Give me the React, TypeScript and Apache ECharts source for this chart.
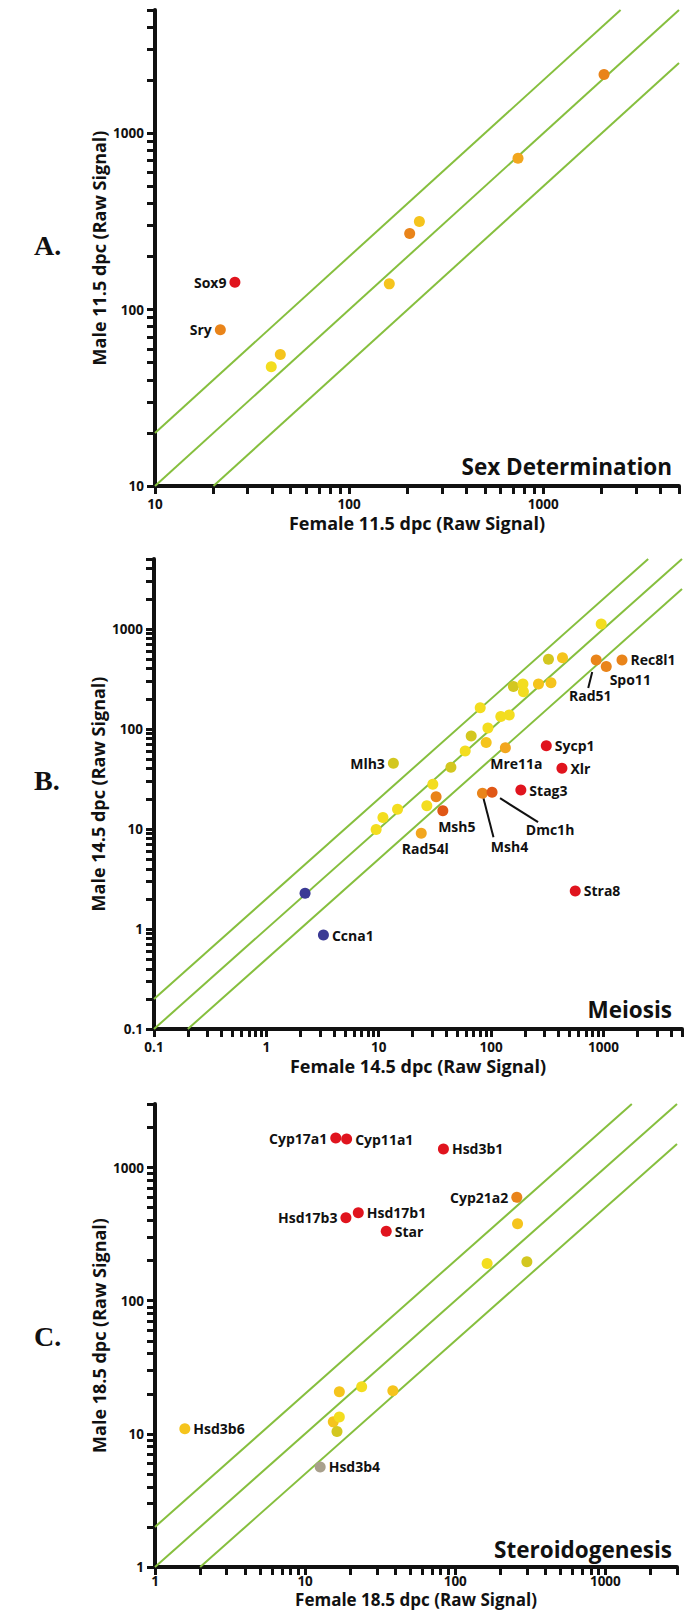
import React, { useEffect, useRef } from "react";
import * as echarts from "echarts";

const FONT = "'Open Sans', 'Noto Sans', 'DejaVu Sans', sans-serif";
const SERIF = "'Liberation Serif', 'DejaVu Serif', serif";
const INK = "#111111";
const GREEN = "#86bf3e";

const PALETTE: Record<string, string> = {
  red: "#e0141e",
  redorange: "#e05716",
  orange: "#e9841a",
  amber: "#f2a61e",
  gold: "#f5c41d",
  yellow: "#f3dd1f",
  olive: "#d3c720",
  blue: "#3b3a95",
  gray: "#a8a08c",
};

// Reference lines: male = ratio * female
const RATIOS = [2, 1, 0.5];

// ---------- Panel A: Sex Determination (11.5 dpc) ----------
const aNames = ["Sox9", "Sry", "", "", "", "", "", "", ""];
const aFemale = [25.8, 21.7, 39.7, 44.2, 161, 205, 230, 741, 2055];
const aMale = [143, 76.9, 47.4, 55.6, 140, 270, 316, 722, 2153];
const aColor = ["red", "orange", "yellow", "gold", "gold", "orange", "gold", "amber", "orange"];
const aTickLabels = [10, 100, 1000];
const aRange = [10, 5000];

// ---------- Panel B: Meiosis (14.5 dpc) ----------
const bNames = [
  "", "Ccna1", "Mlh3", "", "", "", "Rad54l", "", "", "", "Msh5", "", "", "", "", "", "", "", "",
  "Mre11a", "Msh4", "Dmc1h", "Stag3", "", "", "", "", "", "", "", "Sycp1", "Xlr", "Stra8", "",
  "Rad51", "Spo11", "Rec8l1",
];
const bFemale = [
  2.21, 3.22, 13.5, 9.48, 10.9, 14.7, 23.9, 26.8, 30.3, 32.4, 37.2, 43.9, 58.8, 66.5, 80, 90.4, 93.7, 122, 145,
  134, 83.8, 102, 184, 158, 192, 194, 264, 341, 324, 432, 310, 427, 561, 955,
  862, 1059, 1462,
];
const bMale = [
  2.28, 0.87, 45.4, 9.9, 13, 15.7, 9.06, 17.1, 28, 21, 15.2, 41.4, 60.3, 85, 163, 73, 102, 133, 138,
  65, 22.8, 23.3, 24.5, 265, 282, 236, 282, 290, 498, 516, 68, 40.5, 2.4, 1122,
  490, 420, 490,
];
const bColor = [
  "blue", "blue", "olive", "yellow", "yellow", "yellow", "amber", "yellow", "yellow", "orange", "redorange",
  "olive", "yellow", "olive", "yellow", "gold", "yellow", "yellow", "yellow",
  "amber", "orange", "redorange", "red", "olive", "yellow", "yellow", "gold", "gold", "olive", "gold",
  "red", "red", "red", "yellow", "orange", "orange", "orange",
];
const bTickLabels = [0.1, 1, 10, 100, 1000];
const bRange = [0.1, 5000];

// ---------- Panel C: Steroidogenesis (18.5 dpc) ----------
const cNames = [
  "Cyp17a1", "Cyp11a1", "Hsd3b1", "Cyp21a2", "", "Hsd17b3", "Hsd17b1", "Star", "", "",
  "Hsd3b6", "", "", "", "", "", "", "Hsd3b4",
];
const cFemale = [16.0, 18.9, 83.4, 257, 260, 18.7, 22.6, 34.7, 163, 300, 1.58, 16.9, 23.8, 38.4, 15.4, 16.9, 16.3, 12.6];
const cMale = [1664, 1636, 1380, 597, 378, 420, 458, 332, 190, 196, 10.9, 20.7, 22.6, 21.1, 12.3, 13.4, 10.4, 5.64];
const cColor = [
  "red", "red", "red", "orange", "gold", "red", "red", "red", "yellow", "olive",
  "gold", "gold", "yellow", "gold", "gold", "yellow", "olive", "gray",
];
const cTickLabels = [1, 10, 100, 1000];
const cRange = [1, 3000];

// ---------- layout / styling (not data) ----------
const GRIDS = [
  { left: 155, top: 10, width: 524, height: 476 },
  { left: 154, top: 559, width: 528, height: 470 },
  { left: 155, top: 1104, width: 522, height: 463 },
];
const X_NAME_GAP = [28, 28, 24];
const X_NAME_SIZE = [18, 18, 17];
const X_LABEL_MARGIN = [11, 11, 7];

type LabelSpec = { pos: "left" | "right" | "inside"; offset?: [number, number] };
const LABELS: Record<string, LabelSpec> = {
  Sox9: { pos: "left" },
  Sry: { pos: "left" },
  Mlh3: { pos: "left" },
  Ccna1: { pos: "right" },
  Rad54l: { pos: "inside", offset: [4, 15] },
  Msh5: { pos: "inside", offset: [14, 16] },
  Mre11a: { pos: "inside", offset: [11, 16] },
  Msh4: { pos: "inside", offset: [27, 53] },
  Dmc1h: { pos: "inside", offset: [58, 37] },
  Stag3: { pos: "right" },
  Sycp1: { pos: "right" },
  Xlr: { pos: "right" },
  Stra8: { pos: "right" },
  Rad51: { pos: "inside", offset: [-6, 36] },
  Spo11: { pos: "inside", offset: [24, 13] },
  Rec8l1: { pos: "right" },
  Cyp17a1: { pos: "left" },
  Cyp11a1: { pos: "right" },
  Hsd3b1: { pos: "right" },
  Cyp21a2: { pos: "left" },
  Hsd17b3: { pos: "left" },
  Hsd17b1: { pos: "right" },
  Star: { pos: "right" },
  Hsd3b6: { pos: "right" },
  Hsd3b4: { pos: "right" },
};

// leader lines: pixel offsets from the point centre [start, end]
const LEADERS: Record<string, [[number, number], [number, number]]> = {
  Rad51: [[-4, 12], [-8, 28]],
  Msh4: [[1, 5], [11, 44]],
  Dmc1h: [[8, 6], [46, 30]],
};

function tickValues(range: number[]): number[] {
  const out: number[] = [];
  const e0 = Math.floor(Math.log10(range[0]) + 1e-9);
  const e1 = Math.ceil(Math.log10(range[1]) - 1e-9);
  for (let e = e0; e <= e1; e++) {
    for (let m = 1; m <= 9; m++) {
      const v = Number((m * Math.pow(10, e)).toPrecision(6));
      if (v >= range[0] * 0.9999 && v <= range[1] * 1.0001) out.push(v);
    }
  }
  return out;
}

function fmt(v: number): string {
  if (v < 1) return String(Number(v.toPrecision(3)));
  return String(Math.round(v));
}

function logAxis(i: number, range: number[], labels: number[], name: string, vertical: boolean) {
  return {
    type: "log",
    logBase: 10,
    gridIndex: i,
    min: range[0],
    max: range[1],
    name,
    nameLocation: "middle",
    nameGap: vertical ? 47 : X_NAME_GAP[i],
    nameMoveOverlap: false,
    nameTextStyle: { fontFamily: FONT, fontWeight: "bold", fontSize: vertical ? 18 : X_NAME_SIZE[i], color: INK },
    axisLine: { show: true, onZero: false, lineStyle: { color: INK, width: 4 } },
    axisTick: { show: true, inside: false, length: 8, lineStyle: { color: INK, width: 3 }, customValues: tickValues(range) },
    minorTick: { show: false },
    splitLine: { show: false },
    axisLabel: {
      show: true,
      margin: vertical ? 11 : X_LABEL_MARGIN[i],
      customValues: labels,
      formatter: (v: number) => fmt(v),
      fontFamily: FONT,
      fontWeight: "bold",
      fontSize: 13.5,
      color: INK,
    },
  };
}

function diagSeries(i: number, xr: number[], yr: number[]) {
  return RATIOS.map((r) => {
    const x0 = Math.max(xr[0], yr[0] / r);
    const x1 = Math.min(xr[1], yr[1] / r);
    return {
      type: "line",
      xAxisIndex: i,
      yAxisIndex: i,
      symbol: "none",
      silent: true,
      z: 1,
      lineStyle: { color: GREEN, width: 2 },
      data: [
        [x0, x0 * r],
        [x1, x1 * r],
      ],
    };
  });
}

function labelFor(name: string) {
  const spec = LABELS[name];
  if (!name || !spec) return { show: false };
  const base: any = {
    show: true,
    formatter: name,
    fontFamily: FONT,
    fontWeight: "bold",
    fontSize: 14,
    color: INK,
  };
  if (spec.pos === "inside") {
    base.position = "inside";
    base.offset = spec.offset;
  } else {
    base.position = spec.pos;
    base.distance = 3;
  }
  return base;
}

function scatterSeries(i: number, names: string[], xs: number[], ys: number[], colors: string[]) {
  return {
    type: "scatter",
    xAxisIndex: i,
    yAxisIndex: i,
    symbol: "circle",
    symbolSize: 11,
    z: 3,
    silent: true,
    itemStyle: { opacity: 1 },
    data: xs.map((x, k) => ({
      value: [x, ys[k]],
      name: names[k],
      itemStyle: { color: PALETTE[colors[k]], opacity: 1 },
      label: labelFor(names[k]),
    })),
  };
}

function leaderSeries(i: number, names: string[], xs: number[], ys: number[]) {
  const idx = names.map((n, k) => (LEADERS[n] ? k : -1)).filter((k) => k >= 0);
  const leaderNames = idx.map((k) => names[k]);
  return {
    type: "custom",
    xAxisIndex: i,
    yAxisIndex: i,
    silent: true,
    z: 2,
    data: idx.map((k) => [xs[k], ys[k]]),
    renderItem: (params: any, api: any) => {
      const p = api.coord([api.value(0), api.value(1)]);
      const seg = LEADERS[leaderNames[params.dataIndex]];
      return {
        type: "line",
        shape: { x1: p[0] + seg[0][0], y1: p[1] + seg[0][1], x2: p[0] + seg[1][0], y2: p[1] + seg[1][1] },
        style: { stroke: INK, lineWidth: 2 },
      };
    },
  };
}

function panelText(text: string, x: number, y: number) {
  return {
    type: "text",
    x,
    y,
    style: {
      text,
      fill: INK,
      font: `bold 22.5px ${FONT}`,
      align: "right",
      verticalAlign: "middle",
    },
  };
}

function letter(text: string, x: number, y: number) {
  return {
    type: "text",
    x,
    y,
    style: {
      text,
      fill: INK,
      font: `bold 28px ${SERIF}`,
      align: "left",
      verticalAlign: "middle",
    },
  };
}

function buildOption() {
  return {
    animation: false,
    backgroundColor: "#ffffff",
    grid: GRIDS.map((g) => ({ ...g, containLabel: false, outerBoundsMode: "none" })),
    xAxis: [
      logAxis(0, aRange, aTickLabels, "Female 11.5 dpc (Raw Signal)", false),
      logAxis(1, bRange, bTickLabels, "Female 14.5 dpc (Raw Signal)", false),
      logAxis(2, cRange, cTickLabels, "Female 18.5 dpc (Raw Signal)", false),
    ],
    yAxis: [
      logAxis(0, aRange, aTickLabels, "Male 11.5 dpc (Raw Signal)", true),
      logAxis(1, bRange, bTickLabels, "Male 14.5 dpc (Raw Signal)", true),
      logAxis(2, cRange, cTickLabels, "Male 18.5 dpc (Raw Signal)", true),
    ],
    series: [
      ...diagSeries(0, aRange, aRange),
      ...diagSeries(1, bRange, bRange),
      ...diagSeries(2, cRange, cRange),
      scatterSeries(0, aNames, aFemale, aMale, aColor),
      scatterSeries(1, bNames, bFemale, bMale, bColor),
      scatterSeries(2, cNames, cFemale, cMale, cColor),
      leaderSeries(1, bNames, bFemale, bMale),
    ],
    graphic: [
      panelText("Sex Determination", 672, 466),
      panelText("Meiosis", 672, 1009),
      panelText("Steroidogenesis", 672, 1549),
      letter("A.", 34, 245),
      letter("B.", 34, 780),
      letter("C.", 34, 1336),
    ],
  };
}

export default function App() {
  const ref = useRef<HTMLDivElement>(null);
  useEffect(() => {
    document.body.style.margin = "0";
    const chart = echarts.init(ref.current as HTMLDivElement, null, { renderer: "svg" });
    chart.setOption(buildOption() as any);
    return () => chart.dispose();
  }, []);
  return <div ref={ref} style={{ width: 694, height: 1616 }} />;
}
